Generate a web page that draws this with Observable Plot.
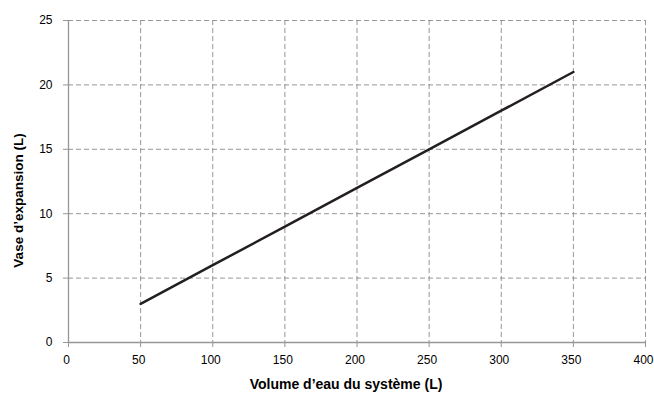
<!DOCTYPE html>
<html>
<head>
<meta charset="utf-8">
<script src="https://cdn.jsdelivr.net/npm/d3@7"></script>
<script src="https://cdn.jsdelivr.net/npm/@observablehq/plot@0.6"></script>
<style>
  html, body { margin: 0; padding: 0; background: #fff; }
  #chart svg { display: block; }
</style>
</head>
<body>
<div id="chart"></div>
<script>
const volumes = [50, 100, 150, 200, 250, 300, 350];
const expansion = [3, 6, 9, 12, 15, 18, 21];
const xTicks = [0, 50, 100, 150, 200, 250, 300, 350, 400];
const yTicks = [0, 5, 10, 15, 20, 25];
const xTitle = "Volume d’eau du système (L)";
const yTitle = "Vase d’expansion (L)";

const data = volumes.map((v, i) => ({x: v, y: expansion[i]}));
const gridColor = "#969696";
const fontFam = "'Liberation Sans', Arial, sans-serif";

const chart = Plot.plot({
  width: 654,
  height: 396,
  marginLeft: 68,
  marginRight: 9,
  marginTop: 20,
  marginBottom: 54,
  style: {fontFamily: fontFam, fontSize: "12px", color: "#000", background: "#fff", overflow: "visible"},
  x: {domain: [0, 400], ticks: xTicks},
  y: {domain: [0, 25], ticks: yTicks},
  marks: [
    Plot.ruleX(xTicks.filter(d => d > 0), {stroke: gridColor, strokeWidth: 1, strokeDasharray: "5,3"}),
    Plot.ruleY(yTicks.filter(d => d > 0), {stroke: gridColor, strokeWidth: 1, strokeDasharray: "5,3"}),
    Plot.ruleX([0], {stroke: gridColor, strokeWidth: 1.3}),
    Plot.ruleY([0], {stroke: gridColor, strokeWidth: 1.3}),
    Plot.axisX({ticks: xTicks, tickSize: 5, tickPadding: 8, stroke: gridColor, fontSize: 12, label: null, text: null}),
    Plot.axisX({ticks: xTicks, tickSize: 0, tickPadding: 13, fontSize: 12, label: null, dx: -2}),
    Plot.axisY({ticks: yTicks, tickSize: 5, tickPadding: 11, stroke: gridColor, fontSize: 12, label: null}),
    Plot.line(data, {x: "x", y: "y", stroke: "#231f20", strokeWidth: 2.5}),
    Plot.text([xTitle], {frameAnchor: "bottom", dx: -11, dy: 46, fontWeight: "bold", fontSize: 14}),
    Plot.text([yTitle], {frameAnchor: "left", textAnchor: "middle", dx: -50, dy: 19, rotate: -90, fontWeight: "bold", fontSize: 13.5})
  ]
});
document.getElementById("chart").appendChild(chart);
</script>
</body>
</html>
